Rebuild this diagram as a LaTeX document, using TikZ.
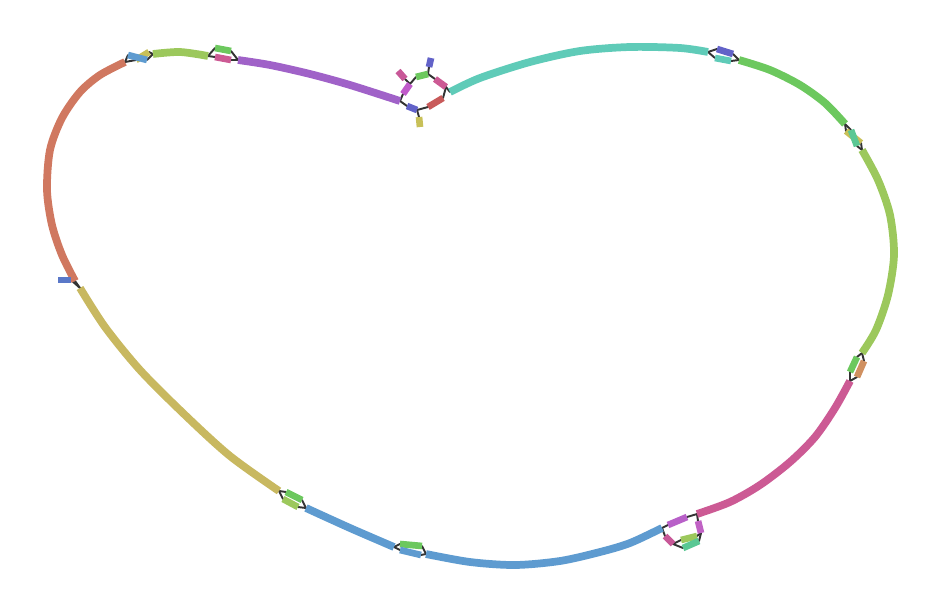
\documentclass[tikz,border=0pt]{standalone}
\usepackage{tikz}
\definecolor{cTeal}{HTML}{5FCBB8}
\definecolor{cIndigo}{HTML}{6262C8}
\definecolor{cGreen}{HTML}{6CC85E}
\definecolor{cSea}{HTML}{5AC894}
\definecolor{cYellow}{HTML}{C8C058}
\definecolor{cLime}{HTML}{9CC85C}
\definecolor{cOrange}{HTML}{D09060}
\definecolor{cPink}{HTML}{CC5A94}
\definecolor{cViolet}{HTML}{B860C8}
\definecolor{cOrchid}{HTML}{C062C4}
\definecolor{cRose}{HTML}{C85898}
\definecolor{cBlue}{HTML}{5E9BD0}
\definecolor{cOlive}{HTML}{C8B860}
\definecolor{cTerra}{HTML}{D07860}
\definecolor{cPurple}{HTML}{A062C8}
\definecolor{cRed}{HTML}{C85A5A}
\definecolor{cMagenta}{HTML}{C05ACA}
\definecolor{cStub}{HTML}{5A78C8}
\definecolor{linkgray}{HTML}{333333}
\tikzset{contig/.style={line width=4.4pt, draw=#1},
  piece/.style={line width=3.8pt, draw=#1},
  link/.style={line width=1.1pt, draw=linkgray, line cap=round}}

\begin{document}
\begin{tikzpicture}[x=0.02cm, y=-0.02cm]
\useasboundingbox (0,0) rectangle (942,612);
% top bubble
\coordinate (pu2) at (400,101);
\coordinate (m1a) at (403,94);  \coordinate (m1b) at (410,84);
\coordinate (rs1) at (398,71);  \coordinate (rs2) at (405,79);
\coordinate (g1a) at (416,77);  \coordinate (g1b) at (428,74);
\coordinate (bs1) at (431,58);  \coordinate (bs2) at (429,67);
\coordinate (p1a) at (435,79);  \coordinate (p1b) at (446,87);
\coordinate (r1a) at (428,107); \coordinate (r1b) at (443,98);
\coordinate (pb1a) at (407,106); \coordinate (pb1b) at (417,110);
\coordinate (ys1) at (419,117); \coordinate (ys2) at (420,127);
% right side
\coordinate (te1) at (450,92);  \coordinate (te2) at (708,52);
\coordinate (ix2a) at (717,49); \coordinate (ix2b) at (733,54);
\coordinate (tb2a) at (715,58); \coordinate (tb2b) at (731,61);
\coordinate (gr1) at (739,60);  \coordinate (gr2) at (845,124);
\coordinate (ye3a) at (846,131); \coordinate (ye3b) at (861,143);
\coordinate (sg3a) at (851,130); \coordinate (sg3b) at (857,146);
\coordinate (li1) at (862,150); \coordinate (li2) at (862,353);
\coordinate (gn4a) at (857,357); \coordinate (gn4b) at (850,372);
\coordinate (or4a) at (864,361); \coordinate (or4b) at (857,377);
\coordinate (pk1) at (850,381); \coordinate (pk2) at (697,514);
% bottom
\coordinate (vi5a) at (687,517); \coordinate (vi5b) at (668,525);
\coordinate (oc5a) at (698,521); \coordinate (oc5b) at (701,533);
\coordinate (lm5a) at (697,536); \coordinate (lm5b) at (681,540);
\coordinate (gn5a) at (699,541); \coordinate (gn5b) at (683,548);
\coordinate (ro5a) at (673,544); \coordinate (ro5b) at (665,536);
\coordinate (bl1) at (662,528); \coordinate (bl2) at (426,554);
\coordinate (gn6a) at (422,546); \coordinate (gn6b) at (400,544);
\coordinate (bu6a) at (421,555); \coordinate (bu6b) at (400,550);
\coordinate (bl3) at (394,547); \coordinate (bl4) at (306,508);
\coordinate (gn7a) at (302,500); \coordinate (gn7b) at (286,492);
\coordinate (lm7a) at (298,507); \coordinate (lm7b) at (283,499);
\coordinate (ol1) at (279,491); \coordinate (ol2) at (80,288);
% left side
\coordinate (tc1) at (75,281);  \coordinate (tc2) at (125,62);
\coordinate (bs9a) at (58,280); \coordinate (bs9b) at (71,280);
\coordinate (bu8a) at (128,55); \coordinate (bu8b) at (147,60);
\coordinate (ye8a) at (136,60); \coordinate (ye8b) at (149,52);
\coordinate (lm1) at (153,54);  \coordinate (lm2) at (208,56);
\coordinate (gn9a) at (215,48); \coordinate (gn9b) at (231,51);
\coordinate (pk9a) at (215,57); \coordinate (pk9b) at (231,60);
\coordinate (pu1) at (238,60);

% links
\foreach \a/\b in {pu2/m1a, pu2/pb1a, m1b/rs2, m1b/g1a, g1b/bs2, g1b/p1a,
  p1b/te1, p1b/r1b, pb1b/r1a, pb1b/ys1,
  te2/ix2a, te2/tb2a, ix2b/gr1, tb2b/gr1,
  gr2/ye3a, gr2/sg3a, ye3b/li1, sg3b/li1,
  li2/gn4a, li2/or4a, gn4b/pk1, or4b/pk1,
  pk2/vi5a, pk2/oc5a, oc5b/lm5a, oc5b/gn5a, lm5b/ro5a, gn5b/ro5a, ro5b/bl1, vi5b/bl1,
  bl2/gn6a, bl2/bu6a, gn6b/bl3, bu6b/bl3,
  bl4/gn7a, bl4/lm7a, gn7b/ol1, lm7b/ol1,
  ol2/tc1, ol2/bs9b,
  tc2/bu8a, tc2/ye8a, bu8b/lm1, ye8b/lm1,
  lm2/gn9a, lm2/pk9a, gn9b/pu1, pk9b/pu1}
  \draw[link] (\a) -- (\b);

% long contigs
\draw[contig=cTeal] plot[smooth] coordinates {(te1) (480,78) (530,62) (580,51) (630,47) (680,48) (te2)};
\draw[contig=cGreen] plot[smooth] coordinates {(gr1) (770,70) (800,85) (825,103) (gr2)};
\draw[contig=cLime] plot[smooth] coordinates {(li1) (878,180) (890,215) (894,255) (888,295) (876,330) (li2)};
\draw[contig=cPink] plot[smooth] coordinates {(pk1) (835,408) (815,437) (790,462) (760,485) (730,502) (pk2)};
\draw[contig=cBlue] plot[smooth] coordinates {(bl1) (630,543) (600,552) (560,561) (515,565) (470,562) (bl2)};
\draw[contig=cBlue] plot[smooth] coordinates {(bl3) (350,528) (bl4)};
\draw[contig=cOlive] plot[smooth] coordinates {(ol1) (230,456) (185,415) (140,370) (105,327) (ol2)};
\draw[contig=cTerra] plot[smooth] coordinates {(tc1) (62,255) (52,225) (47,190) (50,150) (62,118) (80,92) (100,75) (tc2)};
\draw[contig=cLime] plot[smooth] coordinates {(lm1) (180,52) (lm2)};
\draw[contig=cPurple] plot[smooth] coordinates {(pu1) (270,65) (310,74) (350,85) (pu2)};

% short contigs
\draw[piece=cMagenta] (m1a) -- (m1b);
\draw[piece=cRose] (rs1) -- (rs2);
\draw[piece=cGreen] (g1a) -- (g1b);
\draw[piece=cIndigo] (bs1) -- (bs2);
\draw[piece=cPink] (p1a) -- (p1b);
\draw[piece=cRed] (r1a) -- (r1b);
\draw[piece=cIndigo] (pb1a) -- (pb1b);
\draw[piece=cYellow] (ys1) -- (ys2);
\draw[piece=cIndigo] (ix2a) -- (ix2b);
\draw[piece=cTeal] (tb2a) -- (tb2b);
\draw[piece=cYellow] (ye3a) -- (ye3b);
\draw[piece=cSea] (sg3a) -- (sg3b);
\draw[piece=cGreen] (gn4a) -- (gn4b);
\draw[piece=cOrange] (or4a) -- (or4b);
\draw[piece=cViolet] (vi5a) -- (vi5b);
\draw[piece=cOrchid] (oc5a) -- (oc5b);
\draw[piece=cLime] (lm5a) -- (lm5b);
\draw[piece=cSea] (gn5a) -- (gn5b);
\draw[piece=cRose] (ro5a) -- (ro5b);
\draw[piece=cGreen] (gn6a) -- (gn6b);
\draw[piece=cBlue] (bu6a) -- (bu6b);
\draw[piece=cGreen] (gn7a) -- (gn7b);
\draw[piece=cLime] (lm7a) -- (lm7b);
\draw[piece=cStub] (bs9a) -- (bs9b);
\draw[piece=cYellow] (ye8a) -- (ye8b);
\draw[piece=cBlue] (bu8a) -- (bu8b);
\draw[piece=cGreen] (gn9a) -- (gn9b);
\draw[piece=cPink] (pk9a) -- (pk9b);
\end{tikzpicture}
\end{document}
